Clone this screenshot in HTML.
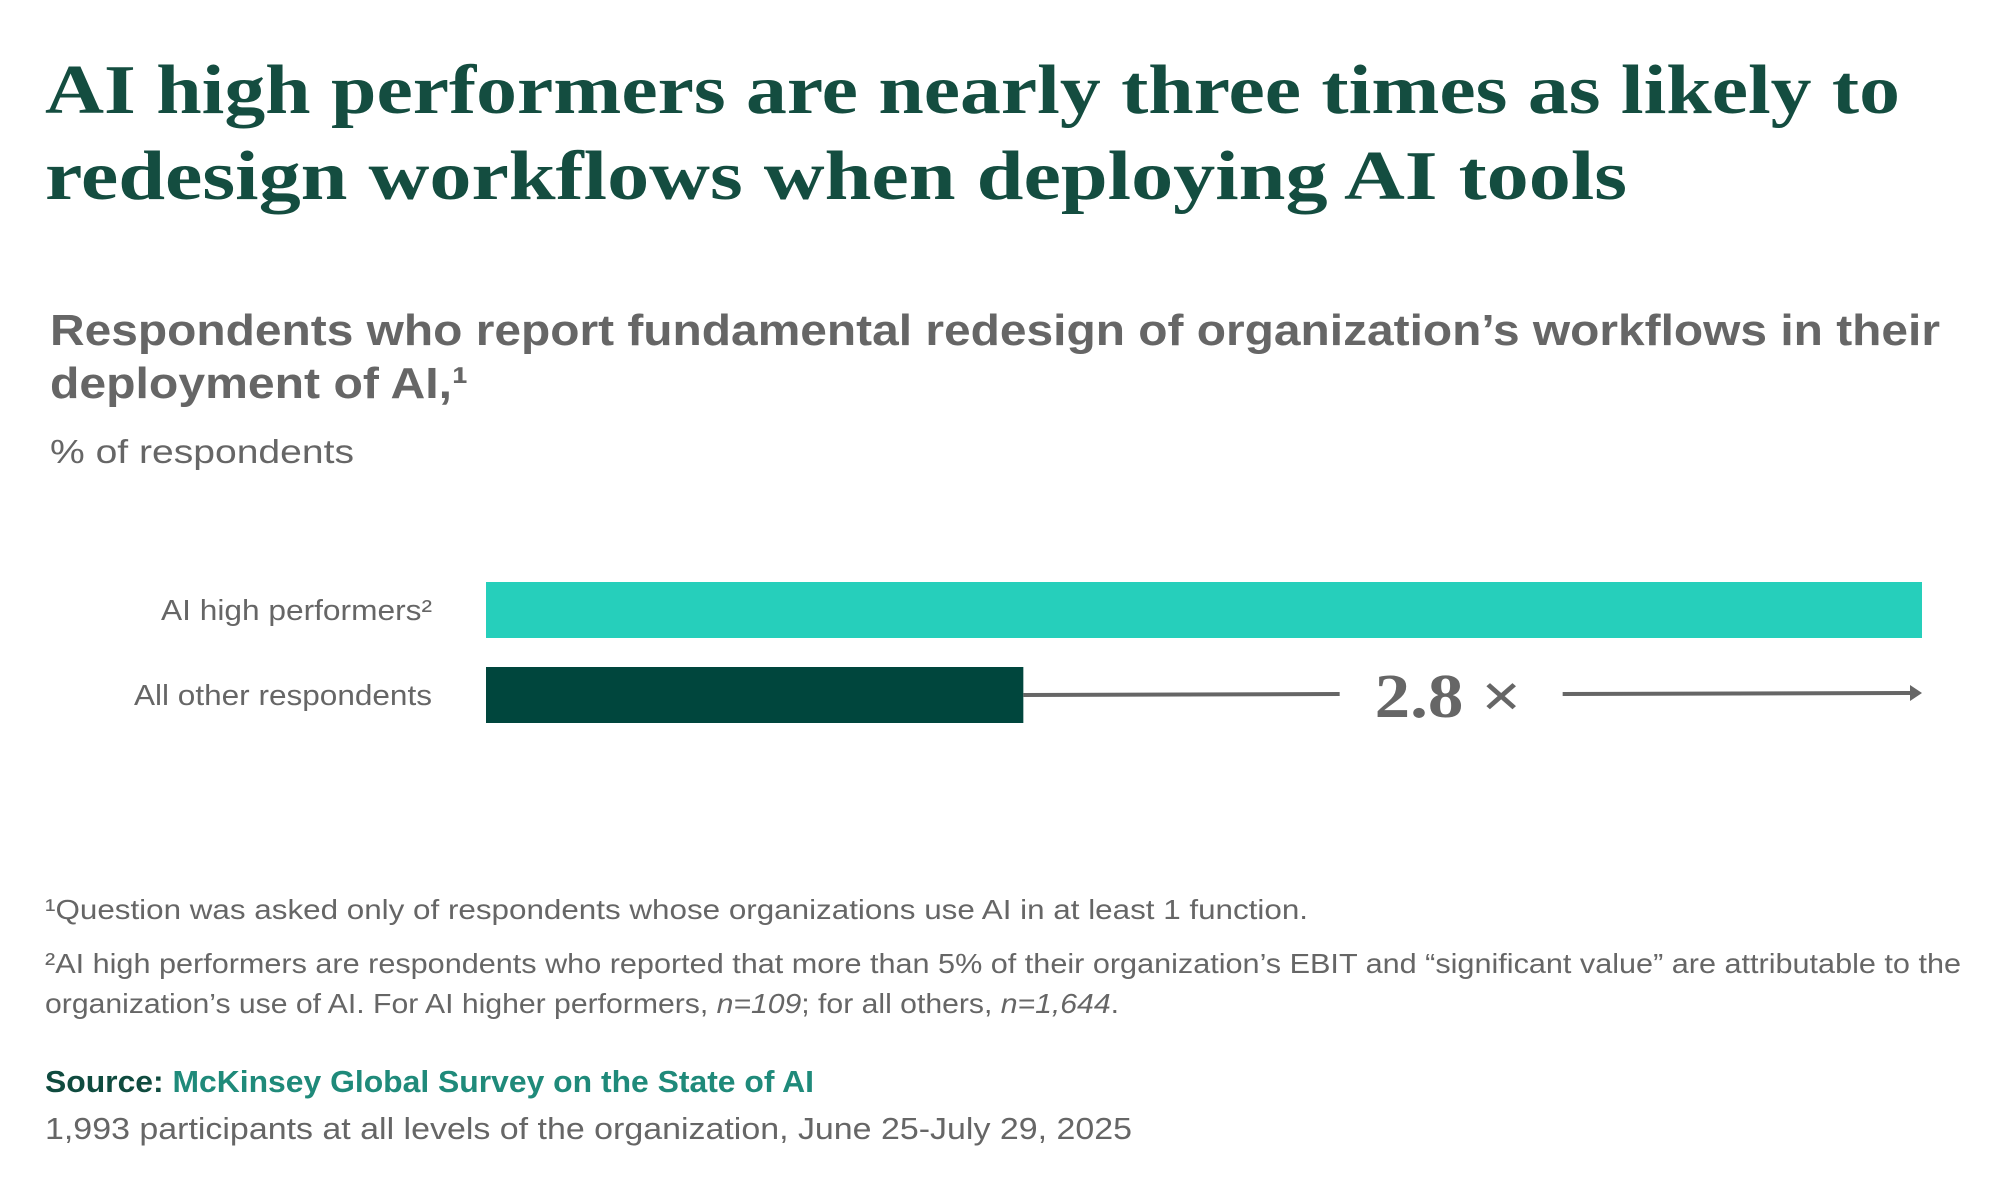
<!DOCTYPE html>
<html><head><meta charset="utf-8"><style>
html,body{margin:0;padding:0;background:#fff;}
svg{display:block;}
.t{font-family:"Liberation Serif",serif;font-weight:bold;fill:#144d40;font-size:70px;}
.s{font-family:"Liberation Sans",sans-serif;font-weight:bold;fill:#666;font-size:44px;}
.g{font-family:"Liberation Sans",sans-serif;fill:#666;}
</style></head><body>
<svg id="chart" width="2000" height="1200" viewBox="0 0 2000 1200" xmlns="http://www.w3.org/2000/svg">
<text class="t" x="45" y="113" textLength="1855" lengthAdjust="spacingAndGlyphs">AI high performers are nearly three times as likely to</text>
<text class="t" x="45" y="199" textLength="1582" lengthAdjust="spacingAndGlyphs">redesign workflows when deploying AI tools</text>
<text class="s" x="50" y="345" textLength="1890" lengthAdjust="spacingAndGlyphs">Respondents who report fundamental redesign of organization’s workflows in their</text>
<text class="s" x="50" y="398" textLength="418" lengthAdjust="spacingAndGlyphs">deployment of AI,¹</text>
<text class="g" x="50" y="463" font-size="33" textLength="304" lengthAdjust="spacingAndGlyphs">% of respondents</text>
<g id="bars"></g>
<text class="g" x="45" y="919" font-size="28" textLength="1263" lengthAdjust="spacingAndGlyphs">¹Question was asked only of respondents whose organizations use AI in at least 1 function.</text>
<text class="g" x="45" y="973" font-size="28" textLength="1916" lengthAdjust="spacingAndGlyphs">²AI high performers are respondents who reported that more than 5% of their organization’s EBIT and “significant value” are attributable to the</text>
<text class="g" x="45" y="1013" font-size="28" textLength="1074" lengthAdjust="spacingAndGlyphs">organization’s use of AI. For AI higher performers, <tspan font-style="italic">n=109</tspan>; for all others, <tspan font-style="italic">n=1,644</tspan>.</text>
<text x="45" y="1092" font-size="31" font-family="Liberation Sans,sans-serif" font-weight="bold" textLength="769" lengthAdjust="spacingAndGlyphs"><tspan fill="#0f4b3f">Source: </tspan><tspan fill="#1f8a7a">McKinsey Global Survey on the State of AI</tspan></text>
<text class="g" x="45" y="1139" font-size="31" textLength="1087" lengthAdjust="spacingAndGlyphs">1,993 participants at all levels of the organization, June 25-July 29, 2025</text>
</svg>
<script>
const categories = ["AI high performers²", "All other respondents"];
const values = [62, 23.2];
const ratioLabel = ["2.8 ×"];
const NS = "http://www.w3.org/2000/svg";
const g = document.getElementById("bars");
const x0 = 486, x1 = 1922;
const maxV = Math.max(...values);
function xs(v){ return x0 + v / maxV * (x1 - x0); }
const tops = [582, 667], bh = 56;
const colors = ["#26cfbb", "#00463d"];
const labelW = [271, 298];
categories.forEach((c, i) => {
  const r = document.createElementNS(NS, "rect");
  r.setAttribute("x", x0); r.setAttribute("y", tops[i]);
  r.setAttribute("width", xs(values[i]) - x0); r.setAttribute("height", bh);
  r.setAttribute("fill", colors[i]);
  
  
  g.appendChild(r);
  const t = document.createElementNS(NS, "text");
  t.setAttribute("x", 432); t.setAttribute("y", tops[i] + bh / 2 + 10);
  t.setAttribute("text-anchor", "end"); t.setAttribute("class", "g"); t.setAttribute("font-size", "29");
  t.setAttribute("textLength", labelW[i]); t.setAttribute("lengthAdjust", "spacingAndGlyphs");
  t.textContent = c;
  
  
  g.appendChild(t);
});
const ly = tops[1] + bh / 2;
const xa = xs(values[1]), xb = xs(values[0]);
const mid = (xa + xb) / 2;
const l1 = document.createElementNS(NS, "line");
l1.setAttribute("x1", xa); l1.setAttribute("x2", mid - 133); l1.setAttribute("y1", ly); l1.setAttribute("y2", ly - 1);
l1.setAttribute("stroke", "#666"); l1.setAttribute("stroke-width", "4");


g.appendChild(l1);
const l2 = document.createElementNS(NS, "line");
l2.setAttribute("x1", mid + 90); l2.setAttribute("x2", xb - 8); l2.setAttribute("y1", ly - 1); l2.setAttribute("y2", ly - 2);
l2.setAttribute("stroke", "#666"); l2.setAttribute("stroke-width", "4");


g.appendChild(l2);
const ah = document.createElementNS(NS, "path");
ah.setAttribute("d", `M${xb-12},${ly-10} L${xb},${ly-2} L${xb-12},${ly+6} Z`);
ah.setAttribute("fill", "#666");


g.appendChild(ah);
const rt = document.createElementNS(NS, "text");
rt.setAttribute("x", mid - 98); rt.setAttribute("y", ly + 22);
rt.setAttribute("font-family", "Liberation Serif, serif"); rt.setAttribute("font-weight", "bold");
rt.setAttribute("font-size", "62"); rt.setAttribute("fill", "#666");
rt.setAttribute("textLength", "147"); rt.setAttribute("lengthAdjust", "spacingAndGlyphs");
rt.textContent = ratioLabel[0];


g.appendChild(rt);
</script>
</body></html>
